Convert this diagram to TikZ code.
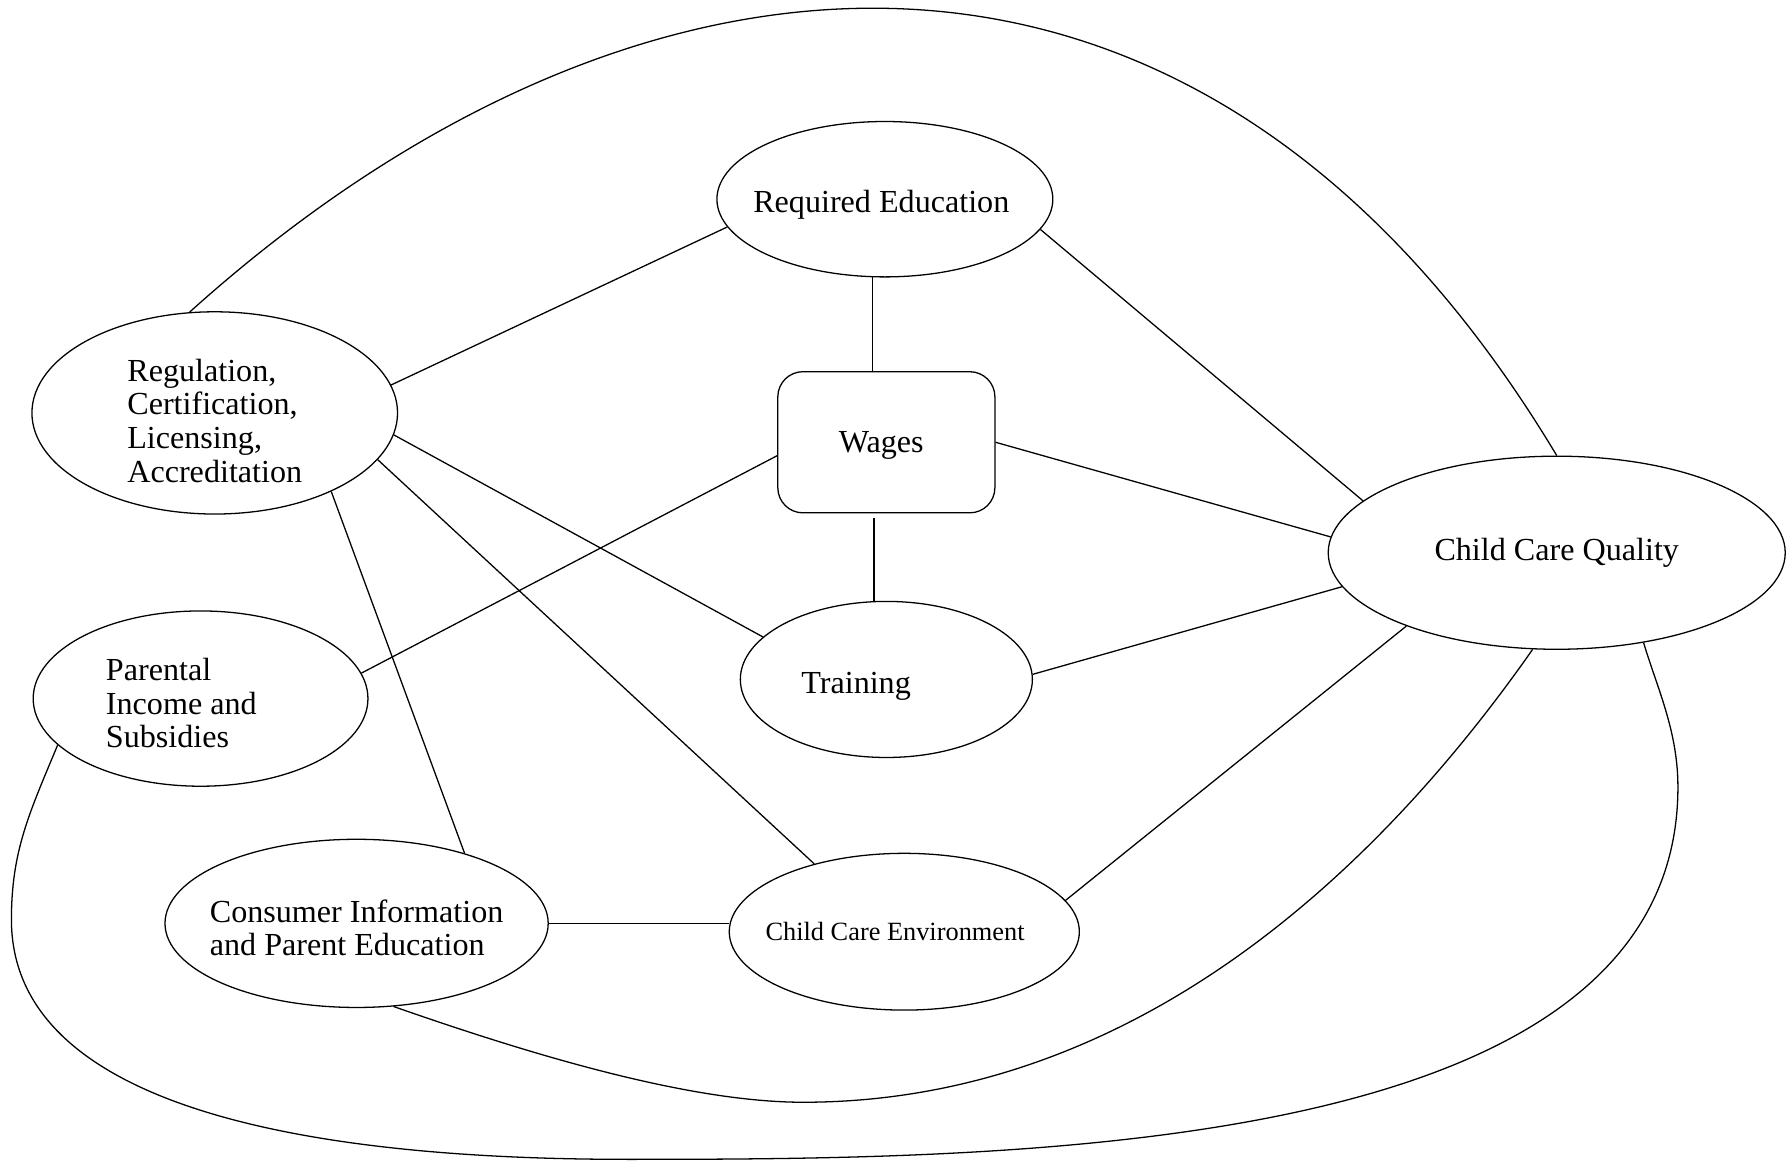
\documentclass[tikz,border=0pt]{standalone}
\usepackage{fontspec}
\setmainfont{Liberation Serif}
\usepackage{tikz}
\usetikzlibrary{shapes, positioning}
\tikzstyle{oval} = [ellipse, draw, inner xsep=-0.5cm, inner ysep=0pt, align=flush left,
    font=\fontsize{10}{10.45}\selectfont]
\tikzstyle{block} = [rectangle, draw, rounded corners=0.275cm, inner sep=0pt, align=flush left,
    minimum width=2.375cm, minimum height=1.544cm, font=\fontsize{10}{10.45}\selectfont]
\tikzstyle{line} = [draw]

\begin{document}
\begin{tikzpicture}[x=0.0125cm, y=-0.0125cm, node distance=0.955cm]
      \useasboundingbox (0,0) rectangle (1568,1016);
      % Factors
      \node [oval, minimum width=4cm, minimum height=2.2125cm] (regulation) at (188,361.5) {\rule{0pt}{11.8pt}Regulation,\\Certification,\\Licensing,\\Accreditation};
      \node [oval, minimum width=3.675cm, minimum height=1.7cm, text width=2.88cm, text height=10.4pt] (education) at (774.7,174.4) {Required Education};
      \node [block, text width=1.04cm, text height=8.75pt] (wages) at (776,387.2) {Wages};
      \node [oval, below=of wages, minimum width=3.195cm, minimum height=1.7075cm, text width=1.86cm, text height=11.1pt] (training) {Training};
      \node [oval, minimum width=5cm, minimum height=2.1125cm] (quality) at (1362.9,483.9) {Child Care Quality};
      \node [oval, minimum width=3.6625cm, minimum height=1.9175cm, text width=2.07cm, text height=9.7pt] (parental) at (175.6,611.6) {Parental\\Income and\\Subsidies};
      \node [oval, minimum width=4.1925cm, minimum height=1.84cm] (consumer) at (312.2,808.4) {\rule{0pt}{9.7pt}Consumer Information\\and Parent Education};
      \node [oval, minimum width=3.83cm, minimum height=1.715cm, text width=3.035cm, font=\fontsize{8.2}{10}\selectfont] (environment) at (791.7,815.7) {Child Care Environment};
      % Bends of the long curves
      \coordinate (consumer-dip) at (703,965);
      \coordinate (outer-left) at (10,805);
      \coordinate (outer-bottom) at (550,1015);
      \coordinate (outer-right) at (1469,689);
      % Draw edges
      \path [line] (regulation.104) .. controls +(392,-353) and +(-313,-522) .. (quality.north);
      \path [line] (regulation.9.2) -- (education.190.5);
      \path [line] (regulation.353.6) -- (training.161);
      \path [line] (regulation.344.2) -- (environment.143.1);
      \path [line] (regulation.326.2) -- (consumer.33);
      \path [line] (education.261.5) -- (education.261.5 |- wages.north);
      \path [line] (education.349.4) -- (quality.165.6);
      \path [line] (wages.east) -- (quality.176.8);
      \path [line] (wages.187.7) -- (parental.9.9);
      \path [line, shorten <=1.4pt] (wages.south -| training.99) -- (training.99);
      \path [line] (training.2.5) -- (quality.189.4);
      \path [line] (environment.11) -- (quality.206.4);
      \path [line] (consumer.east) -- (consumer.east -| environment.west);
      \path [line] (consumer.294) .. controls +(120,42) and +(-100,0) .. (consumer-dip)
          .. controls +(300,0) and +(-126,180) .. (quality.256.5);
      \path [line] (parental.198.5) .. controls +(-25,60) and +(0,-60) .. (outer-left)
          .. controls +(0,155) and +(-310,0) .. (outer-bottom)
          .. controls +(350,0) and +(0,321) .. (outer-right)
          .. controls +(0,-49) and +(12,40) .. (quality.314);
\end{tikzpicture}
\end{document}
